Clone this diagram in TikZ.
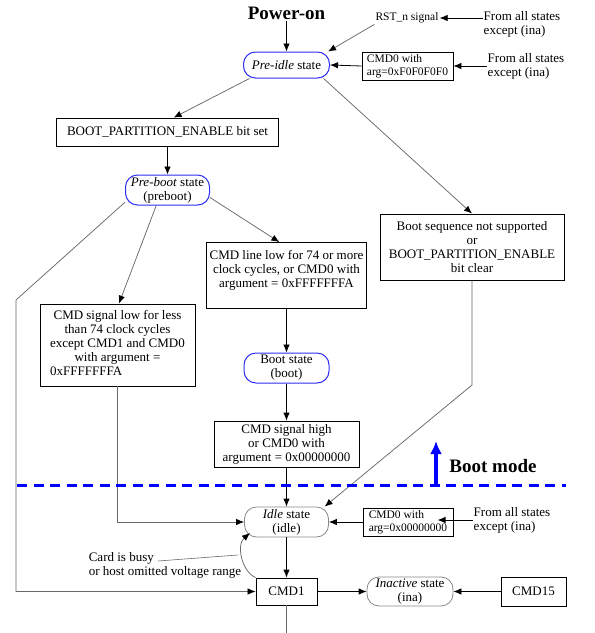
\documentclass[tikz,border=0pt]{standalone}
\usepackage{fontspec}
\setmainfont{Liberation Serif}
\usetikzlibrary{arrows.meta}

\definecolor{stateblue}{RGB}{45,45,245}
\definecolor{linegray}{RGB}{105,105,105}
\definecolor{stategray}{RGB}{135,135,135}

\begin{document}
\begin{tikzpicture}[x=1pt, y=1pt,
    every node/.style={font=\fontsize{13}{14}\selectfont, inner sep=1pt},
    box/.style={draw, line width=0.8pt, align=center},
    bstate/.style={draw=stateblue, line width=1pt, rounded corners=12pt, align=center},
    gstate/.style={draw=stategray, line width=0.8pt, rounded corners=12pt, align=center},
    small/.style={font=\fontsize{11.5}{12.5}\selectfont},
    title/.style={font=\fontsize{19}{22}\selectfont\bfseries},
    arr/.style={draw, line width=0.8pt, -{Latex[length=8pt, width=6.5pt]}},
    garr/.style={draw=linegray, line width=0.75pt, -{Latex[length=8pt, width=6.5pt, color=black]}}]
    \useasboundingbox (0,0) rectangle (595,-633);

    % States
    \node[bstate, minimum width=86pt, minimum height=26pt] (preidle) at (286.5,-65) {\textit{Pre-idle} state};
    \node[bstate, minimum width=84pt, minimum height=30pt] (preboot) at (167.5,-190) {\textit{Pre-boot} state\\(preboot)};
    \node[bstate, minimum width=85pt, minimum height=30pt] (boot) at (286.5,-368) {Boot state\\(boot)};
    \node[gstate, minimum width=84pt, minimum height=30pt] (idle) at (286.5,-522) {\textit{Idle} state\\(idle)};
    \node[gstate, minimum width=86pt, minimum height=29pt] (ina) at (410,-591.5) {\textit{Inactive} state\\(ina)};

    % Conditions and commands
    \node[box, minimum width=222pt, minimum height=28pt] (bpe) at (167.5,-132) {BOOT\_PARTITION\_ENABLE bit set};
    \node[box, minimum width=155pt, minimum height=82pt] (cmdlow) at (117.5,-345) {\begin{tabular}{@{}c@{}}CMD signal low for less\\than 74 clock cycles\\except CMD1 and CMD0\\with argument =\\\multicolumn{1}{@{}l@{}}{0xFFFFFFFA}\end{tabular}};
    \node[box, minimum width=160pt, minimum height=66pt] (cmdline) at (286.5,-275.5) {CMD line low for 74 or more\\clock cycles, or CMD0 with\\argument = 0xFFFFFFFA\\ \mbox{}};
    \node[box, minimum width=145pt, minimum height=46pt] (cmdhigh) at (286.5,-444) {CMD signal high\\or CMD0 with\\argument = 0x00000000};
    \node[box, minimum width=184pt, minimum height=66pt] (bootseq) at (472,-247) {Boot sequence not supported\\or\\BOOT\_PARTITION\_ENABLE\\bit clear};
    \node[box, small, align=left, minimum width=91pt, minimum height=28pt] (cmdzeroa) at (407.5,-66) {CMD0 with\\arg=0xF0F0F0F0};
    \node[box, small, align=left, minimum width=90pt, minimum height=28pt] (cmdzerob) at (408,-522) {CMD0 with\\arg=0x00000000};
    \node[box, minimum width=61pt, minimum height=27pt] (cmdone) at (286.5,-591.5) {CMD1};
    \node[box, minimum width=65pt, minimum height=29pt] (cmdfifteen) at (533.5,-591.5) {CMD15};

    % Labels
    \node[title] (poweron) at (286.5,-13) {Power-on};
    \node[small] (rst) at (407,-18) {RST\_n signal};
    \node[align=left] (froma) at (522,-24) {From all states\\except (ina)};
    \node[align=left] (fromb) at (526,-66) {From all states\\except (ina)};
    \node[align=left] (fromc) at (512,-520) {From all states\\except (ina)};
    \node[align=left] (busy) at (165,-565) {Card is busy\\or host omitted voltage range};
    \node[title] (bootmode) at (493,-466) {Boot mode};

    \coordinate (busyfrom) at (158,-561);
    \coordinate (busyto) at (238,-555);
    \coordinate (busytip) at (250,-533);
    \coordinate (bottomend) at (286.5,-633);

    % Connectors
    \draw[arr] (poweron) -- (preidle);
    \draw[arr] (froma.west |- rst.east) -- (rst.east);
    \draw[garr] (rst.south west) -- (preidle.18);
    \draw[arr] (fromb.west) -- (cmdzeroa.east);
    \draw[arr] (cmdzeroa.west) -- (preidle.east);
    \draw[garr] (preidle.200) -- (bpe.67);
    \draw[garr] (preidle.-20) -- (bootseq.north);
    \draw[arr] (bpe) -- (preboot);
    \draw[garr] (preboot.196) -- (16,-300) |- (cmdone.west);
    \draw[garr] (preboot.234) -- (cmdlow.88);
    \draw[garr] (preboot.-10) -- (cmdline.102);
    \draw[garr] (cmdlow.south) |- (idle.west);
    \draw[arr] (cmdline) -- (boot);
    \draw[arr] (boot) -- (cmdhigh);
    \draw[arr] (cmdhigh) -- (idle);
    \draw[garr] (bootseq.south) -- (472,-385) -- (idle.22);
    \draw[arr] (fromc.west) -- ++(-35,0);
    \draw[arr] (cmdzerob.west) -- (idle.east);
    \draw[arr] (idle) -- (cmdone);
    \draw[arr] (cmdone) -- (ina);
    \draw[arr] (cmdfifteen) -- (ina);
    \draw[garr] (cmdone.north west) .. controls (242,-572) and (236,-545) .. (busytip);
    \draw[linegray, line width=0.6pt] (busyfrom) -- (busyto);
    \draw[linegray, line width=0.8pt] (cmdone.south) -- (bottomend);

    % Boot mode boundary
    \draw[blue, line width=3.5pt, dash pattern=on 10pt off 6.5pt] (17,-485.5) -- (566,-485.5);
    \draw[blue, line width=3.5pt, -{Latex[length=13pt, width=12pt]}] (436,-485.5) -- (436,-441);
\end{tikzpicture}
\end{document}
